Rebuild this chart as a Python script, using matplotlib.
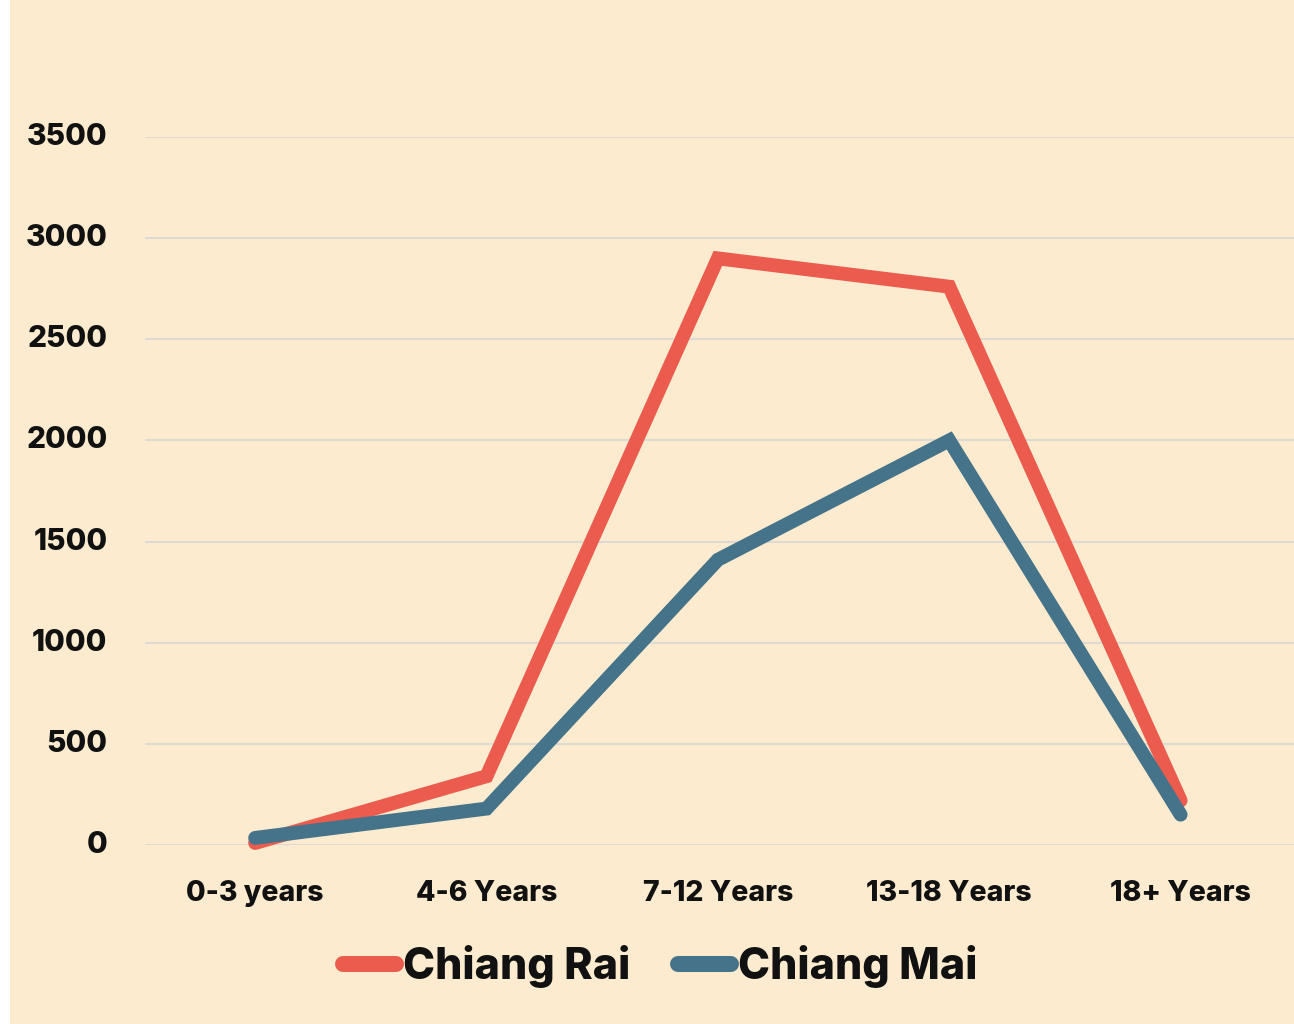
import matplotlib
matplotlib.use("Agg")
import matplotlib.pyplot as plt
from matplotlib.patches import Rectangle

categories = ["0-3 years", "4-6 Years", "7-12 Years", "13-18 Years", "18+ Years"]
chiang_rai = [10, 340, 2900, 2760, 220]
chiang_mai = [35, 180, 1410, 2000, 150]
yticks = [0, 500, 1000, 1500, 2000, 2500, 3000, 3500]

BG = "#FCEBCF"
RED = "#EB5C4F"
BLUE = "#44738A"
FONT = ['Inter', 'DejaVu Sans']
plt.rcParams['font.family'] = FONT

W, H = 1294, 1024
fig = plt.figure(figsize=(W / 100, H / 100), dpi=100)
fig.patch.set_facecolor(BG)
fig.patches.append(Rectangle((0, 0), 10 / W, 1, transform=fig.transFigure,
                             facecolor="white", edgecolor="none", zorder=10))

ax = fig.add_axes([145 / W, 1 - 845 / H, 1 - 145 / W, (845 - 137) / H])
ax.set_facecolor(BG)
x = list(range(len(categories)))
ax.plot(x, chiang_rai, color=RED, lw=10, solid_capstyle="round",
        solid_joinstyle="miter", clip_on=False, zorder=3, label="Chiang Rai")
ax.plot(x, chiang_mai, color=BLUE, lw=10, solid_capstyle="round",
        solid_joinstyle="miter", clip_on=False, zorder=4, label="Chiang Mai")

ax.set_xlim(-0.476, 4.49)
ax.set_ylim(0, 3500)
ax.set_yticks(yticks)
ax.set_yticklabels([str(v) for v in yticks], fontsize=21.5, fontweight="heavy",
                   color="#111111", va="center")
ax.set_xticks(x)
ax.set_xticklabels(categories, fontsize=20.5, fontweight="heavy", color="#111111")
ax.tick_params(axis="y", length=0, pad=27)
ax.tick_params(axis="x", length=0, pad=25)
ax.grid(axis="y", color="#DCDAD3", lw=1.5, zorder=0)
for s in ax.spines.values():
    s.set_visible(False)

leg = fig.legend(loc="center", bbox_to_anchor=(660 / W, 1 - 967 / H), ncol=2,
                 frameon=False, handlelength=1.25, handletextpad=0.15,
                 columnspacing=1.1,
                 prop={"family": FONT, "weight": "heavy", "size": 31})
for line in leg.get_lines():
    line.set_linewidth(11.5)
    line.set_solid_capstyle("round")
for t in leg.get_texts():
    t.set_color("#111111")

fig.savefig("out.png", dpi=100, facecolor=BG)
